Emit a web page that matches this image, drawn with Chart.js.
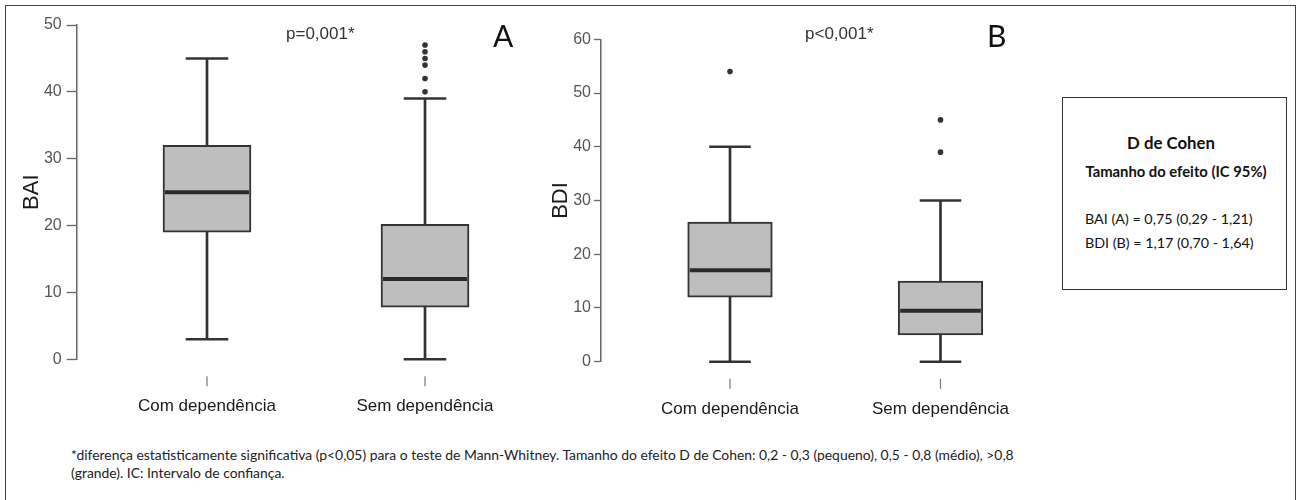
<!DOCTYPE html>
<html><head><meta charset="utf-8">
<script src="https://cdn.jsdelivr.net/npm/chart.js@4.4.1/dist/chart.umd.min.js"></script>
<style>
html,body{margin:0;padding:0;background:#fff;width:1299px;height:500px;overflow:hidden;}
.abs{position:absolute;white-space:nowrap;}
#frame{position:absolute;left:5px;top:5px;width:1291px;height:600px;border:1.5px solid #444;box-sizing:border-box;}
canvas{position:absolute;top:0;}
#cA{left:0;}
#cB{left:540px;}
.pv{font-family:"Liberation Sans",Arial,sans-serif;font-size:17px;line-height:1;color:#333;}
.pl{font-family:Lato,sans-serif;font-size:30px;line-height:1;color:#111;}
#legend{position:absolute;left:1062px;top:97px;width:225px;height:193px;border:1px solid #333;box-sizing:border-box;}
.lt{font-family:Lato,sans-serif;color:#111;line-height:1;}
#foot{position:absolute;left:71px;top:446px;font-family:Lato,sans-serif;font-size:13.9px;line-height:18.3px;color:#222;white-space:nowrap;}
</style></head>
<body>
<div id="frame"></div>
<canvas id="cA" width="540" height="430"></canvas>
<canvas id="cB" width="520" height="430"></canvas>
<div class="abs pv" style="left:286px;top:25px;">p=0,001*</div>
<div class="abs pv" style="left:805px;top:25px;">p&lt;0,001*</div>
<div class="abs pl" style="left:493px;top:20px;">A</div>
<div class="abs pl" style="left:987px;top:20px;">B</div>
<div id="legend"></div>
<div class="abs lt" style="left:1062px;width:218px;text-align:center;top:135px;font-size:16.8px;font-weight:700;">D de Cohen</div>
<div class="abs lt" style="left:1062px;width:228px;text-align:center;top:164px;font-size:14.8px;font-weight:700;">Tamanho do efeito (IC 95%)</div>
<div class="abs lt" style="left:1085px;top:212px;font-size:14.3px;">BAI (A) = 0,75 (0,29 - 1,21)</div>
<div class="abs lt" style="left:1085px;top:236px;font-size:14.3px;">BDI (B) = 1,17 (0,70 - 1,64)</div>
<div id="foot">*diferença estatisticamente significativa (p&lt;0,05) para o teste de Mann-Whitney. Tamanho do efeito D de Cohen: 0,2 - 0,3 (pequeno), 0,5 - 0,8 (médio), &gt;0,8<br>(grande). IC: Intervalo de confiança.</div>
<script>
// ---- data ----
const categories = ['Com dependência', 'Sem dependência'];
const baiMin = [3, 0];
const baiQ1 = [19, 7.8];
const baiMedian = [25, 12];
const baiQ3 = [32, 20.2];
const baiMax = [45, 39];
const baiOutliers = [[], [40, 42, 44, 45, 46, 47]];
const bdiMin = [0, 0];
const bdiQ1 = [12, 5];
const bdiMedian = [17, 9.5];
const bdiQ3 = [26, 15];
const bdiMax = [40, 30];
const bdiOutliers = [[54], [39, 45]];
const baiTicks = [0, 10, 20, 30, 40, 50];
const bdiTicks = [0, 10, 20, 30, 40, 50, 60];

const LINE = '#333333';
const FILL = '#bebebe';

function boxDatasets(mins, q1s, meds, q3s, maxs, outs, boxW, capR) {
  const pos = categories.map((c, i) => i + 1);
  return [
    { type: 'bar', order: 3, grouped: false, barThickness: 2, backgroundColor: LINE, borderWidth: 0, clip: false,
      data: pos.map((x, i) => ({ x, y: [mins[i], maxs[i]] })) },
    { type: 'bar', order: 2, grouped: false, barThickness: boxW, backgroundColor: FILL, borderColor: LINE,
      borderWidth: 2, borderSkipped: false, clip: false,
      data: pos.map((x, i) => ({ x, y: [q1s[i], q3s[i]] })) },
    { type: 'scatter', order: 1, pointStyle: 'line', pointRadius: boxW / 2 - 2, borderWidth: 4, borderColor: '#2a2a2a', clip: false,
      data: pos.map((x, i) => ({ x, y: meds[i] })) },
    { type: 'scatter', order: 1, pointStyle: 'line', pointRadius: capR, borderWidth: 2.5, borderColor: LINE, clip: false,
      data: pos.flatMap((x, i) => [{ x, y: mins[i] }, { x, y: maxs[i] }]) },
    { type: 'scatter', order: 1, pointStyle: 'circle', pointRadius: 2.8, backgroundColor: LINE, borderWidth: 0, clip: false,
      data: pos.flatMap((x, i) => outs[i].map(v => ({ x, y: v }))) }
  ];
}

const xTickMarks = {
  id: 'xTickMarks',
  afterDraw(chart) {
    const s = chart.scales.x, ctx = chart.ctx, b = chart.chartArea.bottom;
    ctx.save();
    ctx.strokeStyle = '#777';
    ctx.lineWidth = 1.2;
    s.ticks.forEach(t => {
      const x = s.getPixelForValue(t.value);
      ctx.beginPath(); ctx.moveTo(x, b + 17); ctx.lineTo(x, b + 27); ctx.stroke();
    });
    ctx.restore();
  }
};

function makeChart(id, cfg) {
  return new Chart(document.getElementById(id), {
    type: 'bar',
    data: { datasets: boxDatasets(cfg.mins, cfg.q1s, cfg.meds, cfg.q3s, cfg.maxs, cfg.outs, cfg.boxW, cfg.capR) },
    plugins: [xTickMarks],
    options: {
      responsive: false, animation: false, events: [], devicePixelRatio: 1,
      layout: { autoPadding: false, padding: { top: cfg.top, left: 0, right: 0, bottom: 0 } },
      plugins: { legend: { display: false }, tooltip: { enabled: false } },
      scales: {
        x: {
          type: 'linear', min: cfg.xmin, max: cfg.xmax, offset: false,
          afterFit: s => { s.height = cfg.xh; },
          grid: { display: false }, border: { display: false },
          afterBuildTicks: s => { s.ticks = categories.map((c, i) => ({ value: i + 1 })); },
          ticks: {
            padding: cfg.xpad, color: '#1a1a1a', maxRotation: 0,
            font: { family: '"Liberation Sans", Arial, sans-serif', size: 17 },
            callback: v => categories[Math.round(v) - 1] || ''
          }
        },
        y: {
          min: 0, max: cfg.ymax,
          afterFit: s => { s.width = cfg.yw; },
          afterBuildTicks: s => { s.ticks = cfg.yticks.map(v => ({ value: v })); },
          border: { display: true, color: '#666', width: 1.5 },
          grid: { display: true, drawOnChartArea: false, drawTicks: true, tickLength: cfg.tl, tickColor: '#666', tickWidth: 1.3 },
          ticks: { padding: cfg.ypad, color: '#555', font: { family: '"Liberation Sans", Arial, sans-serif', size: 16 } },
          title: { display: true, text: cfg.title, color: '#1a1a1a', padding: { top: cfg.tpad, bottom: 0 },
                   font: { family: '"Liberation Sans", Arial, sans-serif', size: 22 } }
        }
      }
    }
  });
}

makeChart('cA', {
  mins: baiMin, q1s: baiQ1, meds: baiMedian, q3s: baiQ3, maxs: baiMax, outs: baiOutliers,
  boxW: 88, capR: 21.3, top: 25, xh: 70.7, yw: 76.7, xmin: 0.4023, xmax: 2.5275,
  xpad: 29, tl: 10, ypad: 5, ymax: 50, yticks: baiTicks, title: 'BAI', tpad: 18.5
});
makeChart('cB', {
  mins: bdiMin, q1s: bdiQ1, meds: bdiMedian, q3s: bdiQ3, maxs: bdiMax, outs: bdiOutliers,
  boxW: 84.6, capR: 20.8, top: 39.3, xh: 68.3, yw: 61, xmin: 0.3872, xmax: 2.5677,
  xpad: 29, tl: 7, ypad: 3, ymax: 60, yticks: bdiTicks, title: 'BDI', tpad: 7.5
});
</script>
</body></html>
